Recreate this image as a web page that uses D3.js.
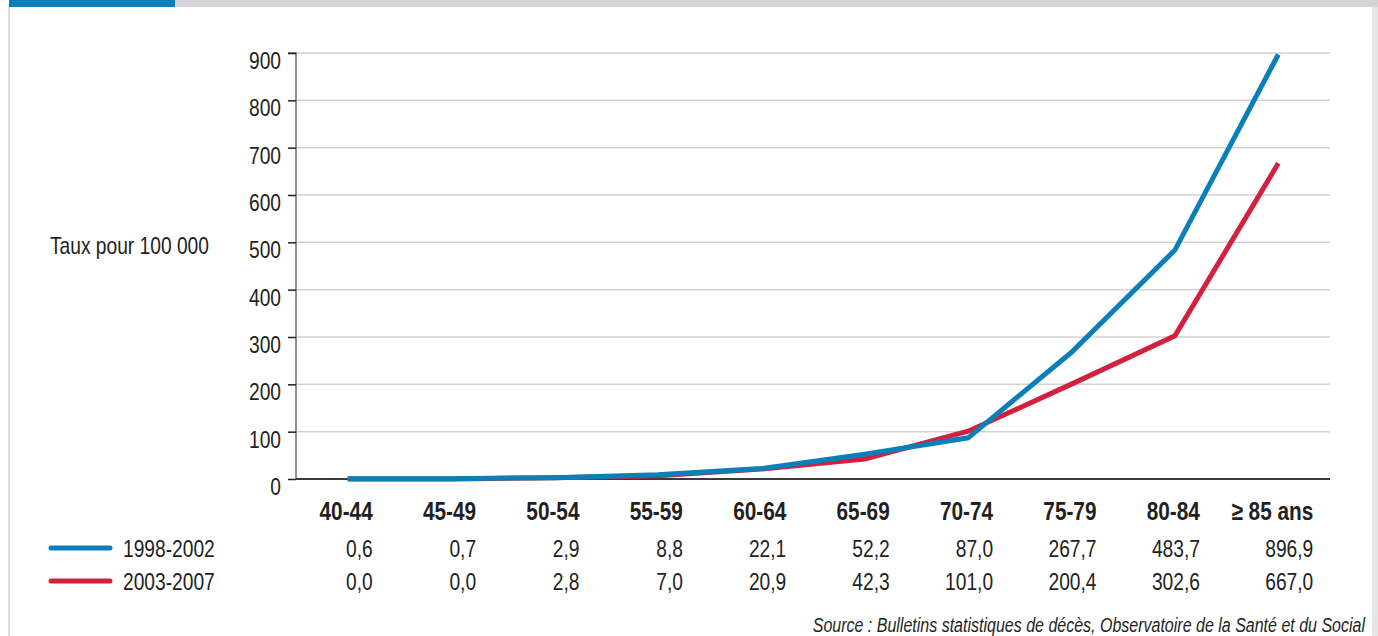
<!DOCTYPE html>
<html>
<head>
<meta charset="utf-8">
<script src="https://cdn.jsdelivr.net/npm/d3@7"></script>
<style>
  html, body { margin: 0; padding: 0; background: #fff; }
  svg { display: block; }
  text { font-family: "Liberation Sans", Arial, sans-serif; fill: #231f20; }
</style>
</head>
<body>
<svg id="chart" width="1378" height="636"></svg>
<script>
const categories = ["40-44", "45-49", "50-54", "55-59", "60-64", "65-69", "70-74", "75-79", "80-84", "\u2265 85 ans"];
const seriesNames = ["1998-2002", "2003-2007"];
const values1998 = [0.6, 0.7, 2.9, 8.8, 22.1, 52.2, 87.0, 267.7, 483.7, 896.9];
const values2003 = [0.0, 0.0, 2.8, 7.0, 20.9, 42.3, 101.0, 200.4, 302.6, 667.0];
const yTicks = [0, 100, 200, 300, 400, 500, 600, 700, 800, 900];
const yLabel = "Taux pour 100 000";
const sourceText = "Source : Bulletins statistiques de décès, Observatoire de la Santé et du Social";

const colors = ["#0a7fb9", "#d3203f"];
const series = [
  { name: seriesNames[0], values: values1998, color: colors[0] },
  { name: seriesNames[1], values: values2003, color: colors[1] }
];

const NARROW = 0.8;
const svg = d3.select("#chart");
const W = 1378, H = 636;
const plot = { left: 296, right: 1330, top: 53, bottom: 479 };

// place a condensed text at (x, y)
function ntext(parent, x, y, str, size, opts = {}) {
  const t = parent.append("text")
    .attr("transform", `translate(${x},${y}) scale(${NARROW},1)`)
    .attr("font-size", size)
    .attr("text-anchor", opts.anchor || "start")
    .text(str);
  if (opts.weight) t.attr("font-weight", opts.weight);
  if (opts.style) t.attr("font-style", opts.style);
  return t;
}

// frame
svg.append("rect").attr("x", 0).attr("y", 0).attr("width", W).attr("height", H).attr("fill", "#fff");
svg.append("rect").attr("x", 9).attr("y", 0).attr("width", 166).attr("height", 7).attr("fill", "#0a7fb9");
svg.append("rect").attr("x", 175).attr("y", 0).attr("width", W - 175).attr("height", 7).attr("fill", "#d4d4d6");
svg.append("rect").attr("x", 8).attr("y", 7).attr("width", 2).attr("height", H - 7).attr("fill", "#dedede");
svg.append("rect").attr("x", 1372).attr("y", 7).attr("width", 6).attr("height", H - 7).attr("fill", "#e6e6e6");

const x = d3.scaleBand().domain(categories).range([plot.left, plot.right]).padding(0);
const y = d3.scaleLinear().domain([0, 900]).range([plot.bottom, plot.top]);
const cx = c => x(c) + x.bandwidth() / 2;

// gridlines
svg.append("g").selectAll("line").data(yTicks.filter(t => t > 0)).join("line")
  .attr("x1", plot.left).attr("x2", plot.right)
  .attr("y1", d => y(d)).attr("y2", d => y(d))
  .attr("stroke", "#d3d3d3").attr("stroke-width", 1.5);

// y axis
const yAxis = d3.axisLeft(y).tickValues(yTicks).tickSize(8).tickPadding(7).tickFormat(d3.format("d"));
const gy = svg.append("g").attr("transform", `translate(${plot.left},0)`).call(yAxis);
gy.select(".domain").attr("stroke", "#6d6e71").attr("stroke-width", 1.5).attr("d", `M-8,${plot.top}H0V${plot.bottom}`);
gy.selectAll(".tick line").attr("stroke", "#231f20").attr("stroke-width", 1.5);
gy.selectAll(".tick text")
  .attr("font-size", 24).attr("fill", "#231f20")
  .attr("font-family", "Liberation Sans, Arial, sans-serif")
  .attr("x", -15 / NARROW).attr("dy", "0.64em")
  .attr("transform", `scale(${NARROW},1)`);

// x axis baseline
svg.append("line").attr("x1", plot.left).attr("x2", plot.right)
  .attr("y1", y(0)).attr("y2", y(0)).attr("stroke", "#3a3a3a").attr("stroke-width", 2);

// y label
ntext(svg, 50, 254, yLabel, 24);

// lines (red under blue)
const line = d3.line().x((d, i) => cx(categories[i])).y(d => y(d));
[series[1], series[0]].forEach(s => {
  svg.append("path").datum(s.values).attr("d", line)
    .attr("fill", "none").attr("stroke", s.color).attr("stroke-width", 5)
    .attr("stroke-linejoin", "miter").attr("stroke-linecap", "butt");
});

// table: category labels and values
const colRight = (c, i) => cx(c) + 25 + (i === categories.length - 1 ? 10 : 0);
const fmt = v => d3.format(".1f")(v).replace(".", ",");

const gCat = svg.append("g");
categories.forEach((c, i) => ntext(gCat, colRight(c, i), 520, c, 26, { anchor: "end", weight: "bold" }));

const rowY = [557, 590];
series.forEach((s, si) => {
  const g = svg.append("g");
  s.values.forEach((v, i) => ntext(g, colRight(categories[i], i), rowY[si], fmt(v), 24, { anchor: "end" }));
  svg.append("line").attr("x1", 51).attr("x2", 110)
    .attr("y1", rowY[si] - 9).attr("y2", rowY[si] - 9)
    .attr("stroke", s.color).attr("stroke-width", 5).attr("stroke-linecap", "round");
  ntext(svg, 123, rowY[si], s.name, 24);
});

// source
ntext(svg, 1365, 632, sourceText, 20, { anchor: "end", style: "italic" });
</script>
</body>
</html>
